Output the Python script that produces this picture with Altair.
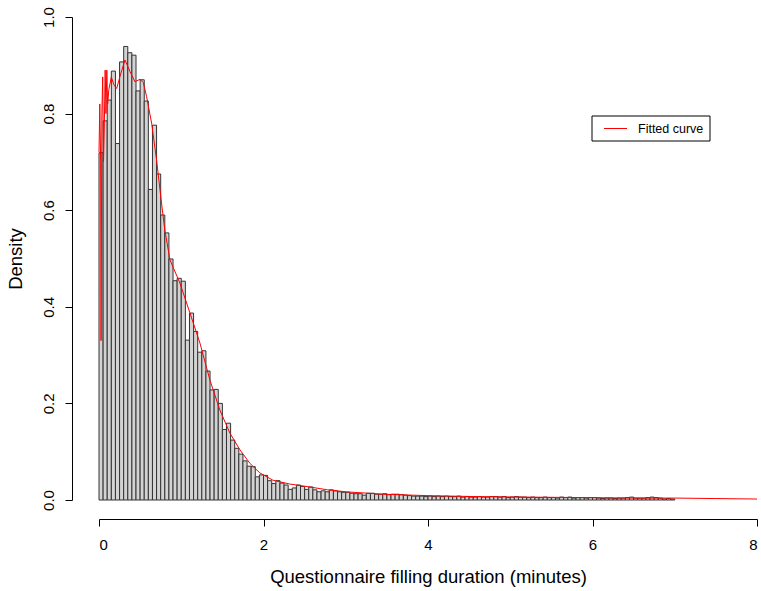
import altair as alt
import pandas as pd

# Histogram densities, bin width 0.05 minutes, from 0 to 7
bin_width = 0.05
densities = [
    0.719, 0.785, 0.828, 0.888, 0.738, 0.907, 0.939, 0.926, 0.921, 0.847,
    0.870, 0.826, 0.643, 0.776, 0.675, 0.590, 0.553, 0.499, 0.454, 0.459,
    0.453, 0.331, 0.387, 0.349, 0.306, 0.309, 0.267, 0.228, 0.229, 0.200,
    0.146, 0.159, 0.124, 0.107, 0.095, 0.081, 0.070, 0.069, 0.048, 0.052,
    0.051, 0.040, 0.034, 0.040, 0.035, 0.031, 0.022, 0.025, 0.031, 0.028,
    0.022, 0.027, 0.021, 0.017, 0.019, 0.017, 0.021, 0.019, 0.017, 0.016,
    0.016, 0.014, 0.013, 0.013, 0.010, 0.014, 0.014, 0.012, 0.012, 0.013,
    0.011, 0.012, 0.012, 0.011, 0.010, 0.009, 0.008, 0.008, 0.008, 0.007,
    0.008, 0.007, 0.008, 0.007, 0.008, 0.007, 0.007, 0.008, 0.006, 0.007,
    0.006, 0.006, 0.007, 0.006, 0.006, 0.007, 0.007, 0.006, 0.007, 0.005,
    0.006, 0.007, 0.006, 0.006, 0.005, 0.006, 0.005, 0.005, 0.006, 0.005,
    0.005, 0.004, 0.006, 0.005, 0.006, 0.004, 0.005, 0.005, 0.004, 0.005,
    0.005, 0.004, 0.003, 0.004, 0.004, 0.003, 0.004, 0.004, 0.005, 0.006,
    0.004, 0.004, 0.004, 0.005, 0.006, 0.005, 0.004, 0.002, 0.003, 0.002,
]

# Fitted curve
curve_x = [0.0, 0.01, 0.02, 0.025, 0.035, 0.045, 0.055, 0.065, 0.075, 0.085,
           0.095, 0.105, 0.12, 0.15, 0.18, 0.215, 0.26,
           0.316, 0.377, 0.437, 0.498, 0.539, 0.579, 0.64, 0.70, 0.76, 0.80,
           0.863, 0.984, 1.106, 1.227, 1.349, 1.47, 1.59, 1.713, 1.834, 1.956,
           2.114, 2.32, 2.56, 2.78, 3.0, 3.45, 4.0, 4.6, 5.2, 5.9,
           6.5, 7.0, 7.5, 8.0]
curve_y = [0.72, 0.82, 0.70, 0.33, 0.80, 0.876, 0.70, 0.78, 0.89, 0.80,
           0.89, 0.82, 0.85, 0.876, 0.86, 0.852, 0.88,
           0.911, 0.887, 0.866, 0.871, 0.864, 0.835, 0.78, 0.704, 0.615, 0.559,
           0.497, 0.449, 0.387, 0.325, 0.248, 0.186, 0.139, 0.104, 0.076, 0.056,
           0.041, 0.033, 0.027, 0.021, 0.017, 0.012, 0.009, 0.007, 0.006, 0.005,
           0.004, 0.004, 0.003, 0.002]

x_ticks = [0, 2, 4, 6, 8]
y_ticks = [0.0, 0.2, 0.4, 0.6, 0.8, 1.0]
legend_label = "Fitted curve"

FONT = "Liberation Sans"

hist_df = pd.DataFrame({
    "start": [round(i * bin_width, 4) for i in range(len(densities))],
    "end": [round((i + 1) * bin_width, 4) for i in range(len(densities))],
    "density": densities,
})
curve_df = pd.DataFrame({"x": curve_x, "y": curve_y})

x_scale = alt.Scale(domain=[0, 8], nice=False, zero=False)
y_scale = alt.Scale(domain=[0, 1], nice=False)

x_axis = alt.Axis(
    values=x_ticks, format="d", grid=False, offset=19, tickSize=7,
    domainColor="black", tickColor="black", labelColor="black",
    labelFont=FONT, labelFontSize=15, labelPadding=11,
    title="Questionnaire filling duration (minutes)", titleFont=FONT,
    titleFontSize=18.5, titleFontWeight="normal", titleColor="black",
    titlePadding=15,
)
y_axis = alt.Axis(
    values=y_ticks, format=".1f", grid=False, offset=27, tickSize=7,
    domainColor="black", tickColor="black", labelColor="black",
    labelFont=FONT, labelFontSize=15, labelPadding=9, labelAngle=270,
    labelAlign="center", labelBaseline="bottom",
    title="Density", titleFont=FONT, titleFontSize=18.5,
    titleFontWeight="normal", titleColor="black", titlePadding=16,
)

bars = alt.Chart(hist_df).mark_rect(
    fill="#d3d3d3", stroke="#333333", strokeWidth=1
).encode(
    x=alt.X("start:Q", scale=x_scale, axis=x_axis),
    x2="end:Q",
    y=alt.Y("density:Q", scale=y_scale, axis=y_axis),
    y2=alt.datum(0),
)

curve = alt.Chart(curve_df).mark_line(color="red", strokeWidth=1).encode(
    x=alt.X("x:Q", scale=x_scale),
    y=alt.Y("y:Q", scale=y_scale),
)

one = pd.DataFrame({"k": [0]})
legend_box = alt.Chart(one).mark_rect(
    fill="white", stroke="black", strokeWidth=1
).encode(
    x=alt.value(493), x2=alt.value(611), y=alt.value(99), y2=alt.value(124)
)
legend_line = alt.Chart(one).mark_rule(color="red", strokeWidth=1).encode(
    x=alt.value(505), x2=alt.value(528), y=alt.value(111.5)
)
legend_text = alt.Chart(one).mark_text(
    align="left", baseline="middle", font=FONT, fontSize=12.5, color="black"
).encode(
    x=alt.value(539), y=alt.value(111.5), text=alt.value(legend_label)
)

chart = alt.layer(bars, curve, legend_box, legend_line, legend_text).properties(
    width=658, height=483,
    autosize=alt.AutoSizeParams(type="none"),
    padding={"left": 99, "top": 17, "right": 4, "bottom": 91},
    background="white",
).configure_view(stroke=None)

chart.save("out.html", embed_options={"renderer": "svg", "actions": False})
